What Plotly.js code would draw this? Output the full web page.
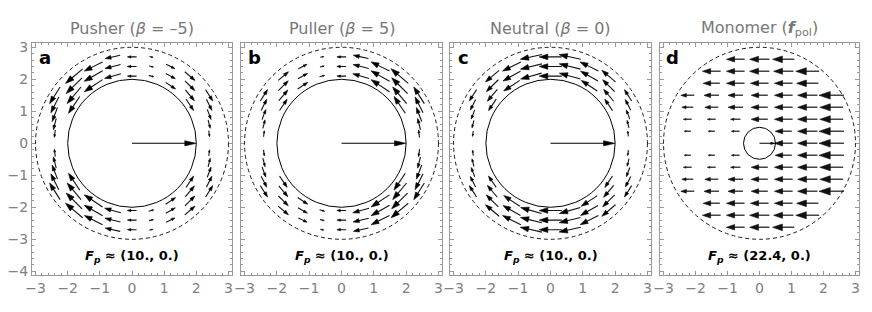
<!DOCTYPE html>
<html><head><meta charset="utf-8">
<script src="https://cdn.plot.ly/plotly-3.0.1.min.js"></script>
<style>html,body{margin:0;padding:0;background:#fff}</style>
</head><body><div id="chart" style="width:872px;height:312px"></div>
<script>
// ---------- data ----------
const panelTitles = ['Pusher (<i>β</i> = –5)', 'Puller (<i>β</i> = 5)', 'Neutral (<i>β</i> = 0)', 'Monomer (<b><i>f</i></b><sub>pol</sub>)'];
const panelLetters = ['a', 'b', 'c', 'd'];
const forceValues = ['(10., 0.)', '(10., 0.)', '(10., 0.)', '(22.4, 0.)'];
const forceDir = [[1, 0], [1, 0], [1, 0], [1, 0]];
const bodyRadius = [2, 2, 2, 0.5];
const outerRadius = [3, 3, 3, 3];
const xTicks = [-3, -2, -1, 0, 1, 2, 3];
const yTicks = [-4, -3, -2, -1, 0, 1, 2, 3];

// grid points of the squirmer panels (a-c)
const gridX = [-0.6,0,0.6, -1.2,-0.6,0,0.6,1.2, -1.8,-1.2,-0.6,0,0.6,1.2,1.8, -1.8,-1.2,1.2,1.8, -2.4,-1.8,1.8,2.4, -2.4,-1.8,1.8,2.4, -2.4,2.4, -2.4,2.4, -2.4,2.4,
               -0.6,0,0.6, -1.2,-0.6,0,0.6,1.2, -1.8,-1.2,-0.6,0,0.6,1.2,1.8, -1.8,-1.2,1.2,1.8, -2.4,-1.8,1.8,2.4, -2.4,-1.8,1.8,2.4, -2.4,2.4, -2.4,2.4, -2.4,2.4];
const gridY = [2.7,2.7,2.7, 2.4,2.4,2.4,2.4,2.4, 2.1,2.1,2.1,2.1,2.1,2.1,2.1, 1.8,1.8,1.8,1.8, 1.5,1.5,1.5,1.5, 1.2,1.2,1.2,1.2, 0.9,0.9, 0.6,0.6, 0.3,0.3,
               -2.7,-2.7,-2.7, -2.4,-2.4,-2.4,-2.4,-2.4, -2.1,-2.1,-2.1,-2.1,-2.1,-2.1,-2.1, -1.8,-1.8,-1.8,-1.8, -1.5,-1.5,-1.5,-1.5, -1.2,-1.2,-1.2,-1.2, -0.9,-0.9, -0.6,-0.6, -0.3,-0.3];
// signed tangential speed at each grid point
const uPusher = [2.04,1.00,-0.08, 2.89,2.15,1.00,-0.21,-1.11, 3.23,3.02,2.29,1.00,-0.36,-1.29,-1.71, 3.21,3.14,-1.48,-1.79, 2.78,3.10,-1.82,-1.72, 2.45,2.86,-1.75,-1.55, 1.99,-1.29, 1.42,-0.94, 0.74,-0.49,
                 2.04,1.00,-0.08, 2.89,2.15,1.00,-0.21,-1.11, 3.23,3.02,2.29,1.00,-0.36,-1.29,-1.71, 3.21,3.14,-1.48,-1.79, 2.78,3.10,-1.82,-1.72, 2.45,2.86,-1.75,-1.55, 1.99,-1.29, 1.42,-0.94, 0.74,-0.49];
const uPuller = [-0.08,1.00,2.04, -1.11,-0.21,1.00,2.15,2.89, -1.71,-1.29,-0.36,1.00,2.29,3.02,3.23, -1.79,-1.48,3.14,3.21, -1.72,-1.82,3.10,2.78, -1.55,-1.75,2.86,2.45, -1.29,1.99, -0.94,1.42, -0.49,0.74,
                 -0.08,1.00,2.04, -1.11,-0.21,1.00,2.15,2.89, -1.71,-1.29,-0.36,1.00,2.29,3.02,3.23, -1.79,-1.48,3.14,3.21, -1.72,-1.82,3.10,2.78, -1.55,-1.75,2.86,2.45, -1.29,1.99, -0.94,1.42, -0.49,0.74];
const uNeutral = [0.98,1.00,0.98, 0.89,0.97,1.00,0.97,0.89, 0.76,0.87,0.96,1.00,0.96,0.87,0.76, 0.71,0.83,0.83,0.71, 0.53,0.64,0.64,0.53, 0.45,0.55,0.55,0.45, 0.35,0.35, 0.24,0.24, 0.12,0.12,
                  0.98,1.00,0.98, 0.89,0.97,1.00,0.97,0.89, 0.76,0.87,0.96,1.00,0.96,0.87,0.76, 0.71,0.83,0.83,0.71, 0.53,0.64,0.64,0.53, 0.45,0.55,0.55,0.45, 0.35,0.35, 0.24,0.24, 0.12,0.12];

// monomer panel (d) grid and velocity
const monoX = [-0.75,0,0.75,
  -1.5,-0.75,0,0.75,1.5,
  -1.5,-0.75,0,0.75,1.5,
  -2.25,-1.5,-0.75,0,0.75,1.5,2.25,
  -2.25,-1.5,-0.75,0,0.75,1.5,2.25,
  -2.25,-1.5,-0.75,0,0.75,1.5,2.25,
  -2.25,-1.5,-0.75,0.75,1.5,2.25,
  0.75,1.5,2.25,
  -2.25,-1.5,-0.75,0.75,1.5,2.25,
  -2.25,-1.5,-0.75,0,0.75,1.5,2.25,
  -2.25,-1.5,-0.75,0,0.75,1.5,2.25,
  -2.25,-1.5,-0.75,0,0.75,1.5,2.25,
  -1.5,-0.75,0,0.75,1.5,
  -1.5,-0.75,0,0.75,1.5,
  -0.75,0,0.75];
const monoY = [2.625,2.625,2.625,
  2.25,2.25,2.25,2.25,2.25,
  1.875,1.875,1.875,1.875,1.875,
  1.5,1.5,1.5,1.5,1.5,1.5,1.5,
  1.125,1.125,1.125,1.125,1.125,1.125,1.125,
  0.75,0.75,0.75,0.75,0.75,0.75,0.75,
  0.375,0.375,0.375,0.375,0.375,0.375,
  0,0,0,
  -0.375,-0.375,-0.375,-0.375,-0.375,-0.375,
  -0.75,-0.75,-0.75,-0.75,-0.75,-0.75,-0.75,
  -1.125,-1.125,-1.125,-1.125,-1.125,-1.125,-1.125,
  -1.5,-1.5,-1.5,-1.5,-1.5,-1.5,-1.5,
  -1.875,-1.875,-1.875,-1.875,-1.875,
  -2.25,-2.25,-2.25,-2.25,-2.25,
  -2.625,-2.625,-2.625];
const monoU = [-0.57,-0.62,-0.68,
  -0.57,-0.57,-0.62,-0.62,-0.73,
  -0.52,-0.57,-0.57,-0.57,-0.68,
  -0.42,-0.47,-0.47,-0.52,-0.57,-0.62,-0.78,
  -0.36,-0.42,-0.47,-0.52,-0.57,-0.62,-0.73,
  -0.26,-0.26,-0.31,-0.52,-0.57,-0.62,-0.73,
  -0.21,-0.21,-0.26,-0.52,-0.62,-0.78,
  -0.57,-0.62,-0.78,
  -0.21,-0.21,-0.26,-0.52,-0.62,-0.78,
  -0.26,-0.26,-0.31,-0.52,-0.57,-0.62,-0.73,
  -0.36,-0.42,-0.47,-0.52,-0.57,-0.62,-0.73,
  -0.42,-0.47,-0.47,-0.52,-0.57,-0.62,-0.78,
  -0.52,-0.57,-0.57,-0.57,-0.68,
  -0.57,-0.57,-0.62,-0.62,-0.73,
  -0.57,-0.62,-0.68];
const monoV = monoU.map(() => 0);

// ---------- drawing ----------
const XR = [-3.11, 3.11], YR = [-4.125, 3.125];
const doms = [[32, 232], [241, 442], [450, 651], [660, 859]].map(d => [d[0] / 872, d[1] / 872]);
const yDom = [1 - 275.3 / 312, 1 - 43.3 / 312];
const FONT = 'DejaVu Sans, sans-serif';

const headSquirmer = L => 0.38 * L;
const headMono = L => L * Math.min(0.45, Math.max(0.3, 0.65 - 0.1 / L));

function arrowTraces(xs, ys, dxs, dys, xa, ya, shaftColor, headColor, lw, headFn, wFrac) {
  const sx = [], sy = [], hx = [], hy = [];
  for (let i = 0; i < xs.length; i++) {
    const dx = dxs[i], dy = dys[i];
    const L = Math.hypot(dx, dy);
    if (L < 1e-6) continue;
    const ux = dx / L, uy = dy / L;
    const tx = xs[i] - dx / 2, ty = ys[i] - dy / 2;
    const px = xs[i] + dx / 2, py = ys[i] + dy / 2;
    const h = headFn(L), w = wFrac * h;
    const bx = px - h * ux, by = py - h * uy;
    sx.push(tx, px - 0.7 * h * ux, null); sy.push(ty, py - 0.7 * h * uy, null);
    hx.push(px, bx - w * uy, bx + w * uy, px, null);
    hy.push(py, by + w * ux, by - w * ux, py, null);
  }
  return [
    {type: 'scatter', mode: 'lines', x: sx, y: sy, xaxis: xa, yaxis: ya, line: {color: shaftColor, width: lw}, hoverinfo: 'skip'},
    {type: 'scatter', mode: 'lines', x: hx, y: hy, xaxis: xa, yaxis: ya, fill: 'toself', fillcolor: headColor, line: {color: headColor, width: 0.6}, hoverinfo: 'skip'}
  ];
}

function tangential(us, scaleMin, scaleMax) {
  const mmax = Math.max(...us.map(Math.abs));
  const dx = [], dy = [];
  for (let i = 0; i < gridX.length; i++) {
    const th = Math.atan2(Math.abs(gridY[i]), gridX[i]);
    const s = Math.sign(gridY[i]);
    const L = (scaleMin + (scaleMax - scaleMin) * Math.abs(us[i]) / mmax) * Math.sign(us[i]);
    dx.push(-Math.sin(th) * L);
    dy.push(s * Math.cos(th) * L);
  }
  return [dx, dy];
}

const traces = [];
const axNames = [['x', 'y'], ['x2', 'y2'], ['x3', 'y3'], ['x4', 'y4']];
const fields = [uPusher, uPuller, uNeutral];
fields.forEach((u, k) => {
  const [dx, dy] = tangential(u, 0.1, 0.7);
  traces.push(...arrowTraces(gridX, gridY, dx, dy, axNames[k][0], axNames[k][1], '#111', '#000', 1.1, headSquirmer, 0.33));
});
traces.push(...arrowTraces(monoX, monoY, monoU, monoV, 'x4', 'y4', '#444', '#111', 1.6, headMono, 0.34));

// F_p arrows: from centre to body surface
const shapes = [];
const annotations = [];
for (let k = 0; k < 4; k++) {
  const [xa, ya] = axNames[k];
  const R = bodyRadius[k];
  const [fx, fy] = forceDir[k];
  const h = Math.min(0.36, 0.3 * R), w = 0.23 * h;
  const px = R * fx, py = R * fy;
  const bx = px - h * fx, by = py - h * fy;
  traces.push({type: 'scatter', mode: 'lines', x: [0, bx + 0.3 * h * fx], y: [0, by + 0.3 * h * fy], xaxis: xa, yaxis: ya, line: {color: '#000', width: 1.1}, hoverinfo: 'skip'});
  traces.push({type: 'scatter', mode: 'lines', x: [px, bx - w * fy, bx + w * fy, px], y: [py, by + w * fx, by - w * fx, py], xaxis: xa, yaxis: ya, fill: 'toself', fillcolor: '#000', line: {color: '#000', width: 0.5}, hoverinfo: 'skip'});
  shapes.push({type: 'circle', xref: xa, yref: ya, x0: -R, x1: R, y0: -R, y1: R, line: {color: '#000', width: 1}});
  const Ro = outerRadius[k];
  shapes.push({type: 'circle', xref: xa, yref: ya, x0: -Ro, x1: Ro, y0: -Ro, y1: Ro, line: {color: '#000', width: 0.9, dash: '4px,3px'}});
  annotations.push({xref: xa + ' domain', yref: 'paper', x: 0.5, y: 1 - 28 / 312, xanchor: 'center', yanchor: 'middle', showarrow: false, text: panelTitles[k], font: {family: FONT, size: 16, color: '#777'}});
  annotations.push({xref: xa + ' domain', yref: ya + ' domain', x: 0.065, y: 0.937, xanchor: 'center', yanchor: 'middle', showarrow: false, text: '<b>' + panelLetters[k] + '</b>', font: {family: FONT, size: 18, color: '#000'}});
  annotations.push({xref: xa + ' domain', yref: ya + ' domain', x: 0.5, y: 0.079, xanchor: 'center', yanchor: 'middle', showarrow: false, text: '<b><i>F</i><sub><i>p</i></sub> ≈ ' + forceValues[k] + '</b>', font: {family: FONT, size: 13, color: '#000'}});
}

const fmt = v => (v < 0 ? '−' + Math.abs(v) : String(v));
function axis(domain, anchor, range, tickvals, showLabels) {
  return {
    domain: domain, anchor: anchor, range: range, tickmode: 'array', tickvals: tickvals, ticktext: tickvals.map(fmt),
    showticklabels: showLabels, ticks: 'inside', ticklen: 4, tickwidth: 1, tickcolor: '#999',
    minor: {ticks: 'inside', ticklen: 2, tickwidth: 1, tickcolor: '#999', tickmode: 'linear', tick0: 0, dtick: 0.2},
    showline: true, linecolor: '#999', linewidth: 1, mirror: 'ticks', showgrid: false, zeroline: false,
    tickfont: {family: FONT, size: 14, color: '#808080'}, fixedrange: true
  };
}
const layout = {
  width: 872, height: 312, margin: {l: 0, r: 0, t: 0, b: 0}, showlegend: false,
  paper_bgcolor: '#fff', plot_bgcolor: '#fff', shapes: shapes, annotations: annotations
};
for (let k = 0; k < 4; k++) {
  const xn = k === 0 ? 'xaxis' : 'xaxis' + (k + 1);
  const yn = k === 0 ? 'yaxis' : 'yaxis' + (k + 1);
  layout[xn] = axis(doms[k], axNames[k][1], XR, xTicks, true);
  layout[yn] = axis(yDom, axNames[k][0], YR, yTicks, k === 0);
}
Plotly.newPlot('chart', traces, layout, {staticPlot: true, displayModeBar: false});
</script></body></html>
